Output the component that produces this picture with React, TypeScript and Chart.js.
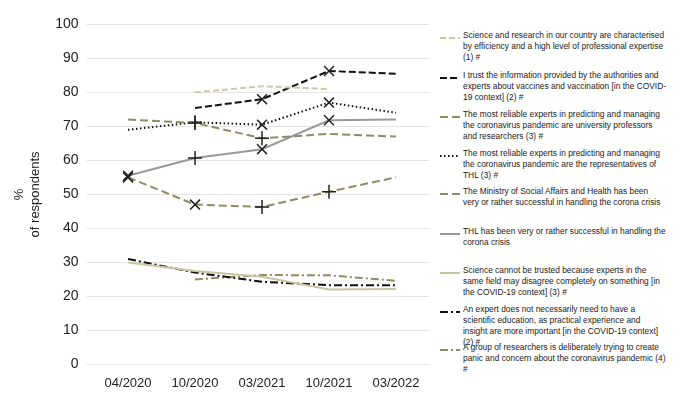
import React, { useEffect, useRef } from "react";
import { Chart, registerables } from "chart.js";
Chart.register(...registerables);

const labels = ["04/2020", "10/2020", "03/2021", "10/2021", "03/2022"];
const s1 = [null, 80, 81.8, 81, null];
const s2 = [null, 75.4, 78, 86.3, 85.5];
const s3 = [72, 71, 66.5, 67.8, 67];
const s4 = [69, 71.2, 70.5, 77, 74];
const s5 = [55, 47, 46.3, 50.8, 55];
const s6 = [55.5, 60.7, 63.3, 71.8, 72];
const s7 = [30, 27.5, 25.8, 22, 22.2];
const s8 = [31, 27, 24.3, 23.3, 23.3];
const s9 = [null, 25, 26.3, 26.2, 24.6];

const legendTexts = [
  "Science and research in our country are characterised by efficiency and a high level of professional expertise (1) #",
  "I trust the information provided by the authorities and experts about vaccines and vaccination [in the COVID-19 context] (2) #",
  "The most reliable experts in predicting and managing the coronavirus pandemic are university professors and researchers (3) #",
  "The most reliable experts in predicting and managing the coronavirus pandemic are the representatives of THL (3) #",
  "The Ministry of Social Affairs and Health has been very or rather successful in handling the corona crisis",
  "THL has been very or rather successful in handling the corona crisis",
  "Science cannot be trusted because experts in the same field may disagree completely on something [in the COVID-19 context] (3) #",
  "An expert does not necessarily need to have a scientific education, as practical experience and insight are more important [in the COVID-19 context] (2) #",
  "A group of researchers is deliberately trying to create panic and concern about the coronavirus pandemic (4) #",
];
const legendTops = [30, 70, 109, 148, 186, 226, 265, 304, 342];

const styles = [
  { c: "#cfc7a6", d: [6, 3], w: 2 },
  { c: "#111", d: [7, 3], w: 2 },
  { c: "#8f8b62", d: [8, 4], w: 2 },
  { c: "#111", d: [1.5, 2.5], w: 2 },
  { c: "#8f8b62", d: [8, 4], w: 2 },
  { c: "#999", d: [], w: 2 },
  { c: "#cbc4a0", d: [], w: 2 },
  { c: "#111", d: [8, 3, 2, 3], w: 2 },
  { c: "#8f8b62", d: [8, 3, 2, 3], w: 2 },
];

const N = false as any;
const pts: any[] = [
  [N, N, N, N, N],
  [N, N, "crossRot", "crossRot", N],
  [N, "cross", "cross", N, N],
  [N, "cross", "crossRot", "crossRot", N],
  ["crossRot", "crossRot", "cross", "cross", N],
  ["crossRot", "cross", "crossRot", "crossRot", N],
  [N, N, N, N, N],
  [N, N, N, N, N],
  [N, N, N, N, N],
];

export default function App() {
  const ref = useRef<HTMLCanvasElement>(null);
  useEffect(() => {
    const data = [s1, s2, s3, s4, s5, s6, s7, s8, s9];
    const chart = new Chart(ref.current!, {
      type: "line",
      data: {
        labels,
        datasets: data.map((d, i) => ({
          data: d,
          borderColor: styles[i].c,
          borderDash: styles[i].d,
          borderWidth: styles[i].w,
          pointStyle: pts[i],
          pointRadius: pts[i].map((p: any) => (p ? 7 : 0)),
          pointBorderColor: "#222",
          pointBorderWidth: 1.5,
          pointBackgroundColor: "transparent",
          spanGaps: false,
          tension: 0,
        })),
      },
      options: {
        animation: false,
        responsive: false,
        plugins: { legend: { display: false }, tooltip: { enabled: false } },
        layout: { padding: { top: 4, right: 4, bottom: 2 } },
        scales: {
          x: {
            offset: true,
            grid: { display: false },
            border: { display: false },
            ticks: { color: "#222", font: { size: 13, family: "Liberation Sans" } },
          },
          y: {
            min: 0,
            max: 100,
            ticks: { stepSize: 10, color: "#222", padding: 8, font: { size: 14, family: "Liberation Sans" } },
            grid: { color: "#e4e4e4" },
            border: { display: false },
            title: {
              display: true,
              text: ["%", "of respondents"],
              color: "#222",
              font: { size: 13, family: "Liberation Sans" },
            },
          },
        },
      },
    });
    return () => chart.destroy();
  }, []);
  return (
    <div style={{ position: "relative", width: 664, height: 388, fontFamily: "Liberation Sans" }}>
      <canvas ref={ref} width={430} height={388} style={{ position: "absolute", left: 0, top: 0 }} />
      {legendTexts.map((t, i) => (
        <div key={i} style={{ position: "absolute", left: 432, top: legendTops[i] - 8, width: 226, display: "flex" }}>
          <svg width={20} height={10} style={{ flex: "none", marginTop: 3 }}>
            <line x1={0} y1={5} x2={20} y2={5} stroke={styles[i].c} strokeWidth={2} strokeDasharray={styles[i].d.join(" ")} />
          </svg>
          <div style={{ fontSize: 8.4, lineHeight: "11px", color: "#222", marginLeft: 3 }}>{t}</div>
        </div>
      ))}
    </div>
  );
}
